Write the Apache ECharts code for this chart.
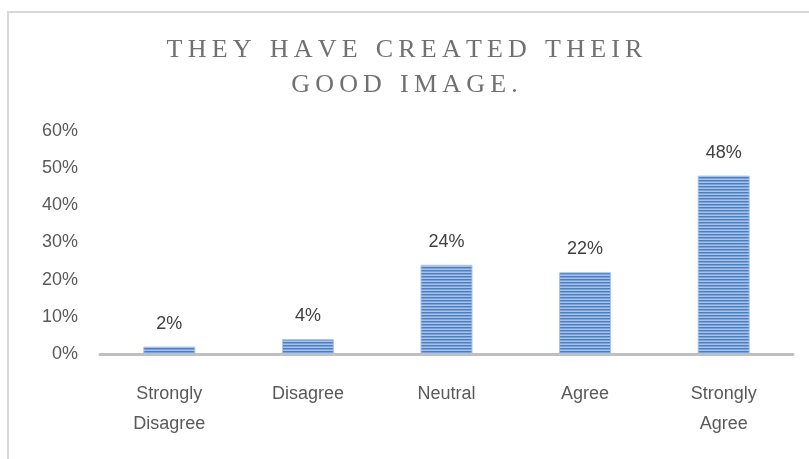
<!DOCTYPE html>
<html>
<head>
<meta charset="utf-8">
<script src="https://cdn.jsdelivr.net/npm/echarts@6/dist/echarts.min.js"></script>
<style>
  html, body { margin: 0; padding: 0; background: #fff; }
  #main { width: 809px; height: 459px; }
</style>
</head>
<body>
<div id="main"></div>
<script>
  var titleLines = ['THEY HAVE CREATED THEIR', 'GOOD IMAGE.'];
  var categories = ['Strongly\nDisagree', 'Disagree', 'Neutral', 'Agree', 'Strongly\nAgree'];
  var values = [0.02, 0.04, 0.24, 0.22, 0.48];
  var yTicks = [0, 0.1, 0.2, 0.3, 0.4, 0.5, 0.6];

  // spread letters like the original wide-tracked title
  function spaced(s) {
    return s.split(' ').map(function (w) { return w.split('').join('\u2009'); }).join('\u2002\u2009');
  }

  // striped fill for the bars
  var pat = document.createElement('canvas');
  pat.width = 4; pat.height = 3;
  var ctx = pat.getContext('2d');
  var rows = ['#4b7dc1', '#7ca2d8', '#a8c3e9'];
  rows.forEach(function (c, i) { ctx.fillStyle = c; ctx.fillRect(0, i, 4, 1); });

  var chart = echarts.init(document.getElementById('main'));
  chart.setOption({
    animation: false,
    title: {
      text: titleLines.map(spaced).join('\n'),
      left: 'center',
      top: 28,
      textStyle: {
        fontFamily: 'Liberation Serif',
        fontSize: 26,
        fontWeight: 'normal',
        color: '#707070',
        lineHeight: 35
      }
    },
    graphic: [{
      type: 'polyline',
      shape: { points: [[8, 460], [8, 12], [810, 12]] },
      style: { stroke: '#d9d9d9', lineWidth: 2, fill: null }
    }],
    grid: { left: 100, right: 16, top: 131, bottom: 105 },
    xAxis: {
      type: 'category',
      data: categories,
      axisLine: { lineStyle: { color: '#bfbfbf', width: 3 } },
      axisTick: { show: false },
      axisLabel: {
        color: '#595959',
        fontFamily: 'Liberation Sans',
        fontSize: 18,
        lineHeight: 30,
        margin: 25,
        interval: 0
      }
    },
    yAxis: {
      type: 'value',
      min: 0,
      max: yTicks[yTicks.length - 1],
      interval: 0.1,
      axisLine: { show: false },
      axisTick: { show: false },
      splitLine: { show: false },
      axisLabel: {
        color: '#595959',
        fontFamily: 'Liberation Sans',
        fontSize: 18,
        margin: 22,
        formatter: function (v) { return Math.round(v * 100) + '%'; }
      }
    },
    series: [{
      type: 'bar',
      data: values,
      barWidth: 52,
      itemStyle: {
        color: { image: pat, repeat: 'repeat' },
        borderColor: '#a9c3e6',
        borderWidth: 1
      },
      label: {
        show: true,
        position: 'top',
        distance: 14,
        color: '#404040',
        fontFamily: 'Liberation Sans',
        fontSize: 18,
        formatter: function (p) { return Math.round(p.value * 100) + '%'; }
      }
    }]
  });
</script>
</body>
</html>
